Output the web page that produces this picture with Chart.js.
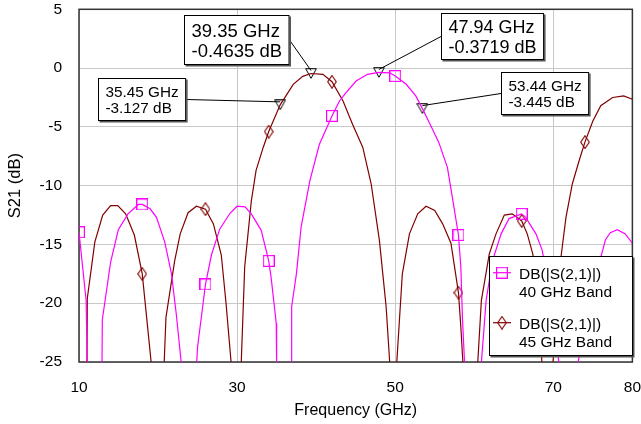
<!DOCTYPE html>
<html>
<head>
<meta charset="utf-8">
<script src="https://cdn.jsdelivr.net/npm/chart.js@4"></script>
<style>
  html, body { margin: 0; padding: 0; background: #fff; }
</style>
</head>
<body>
<canvas id="chart" width="641" height="424"></canvas>
<script>
// 40 GHz band (magenta)
const magFreq = [10.0, 10.9, 11.05, 11.9, 12.9, 12.95, 14.0, 14.97, 16.2, 17.5, 18.0, 19.0, 19.8, 20.85, 21.7, 22.3, 23.0, 23.9,
  24.85, 25.0, 25.7, 26.0, 26.75, 27.8, 29.1, 30.0, 31.0, 31.8, 33.05, 34.0, 34.3, 34.95, 35.0, 35.9,
  36.85, 36.9, 37.5, 38.1, 39.2, 40.4, 42.0, 42.95, 43.6, 45.05, 46.5, 47.94, 49.3, 50.0, 51.4, 52.6, 53.44, 54.5, 55.5, 56.6, 57.3,
  58.0, 58.3, 58.5, 58.8, 59.8, 60.85, 61.5, 62.3, 63.4, 64.4, 66.0, 66.5, 67.8, 68.6, 69.5, 70.8, 71.9,
  73.05, 74.0, 75.0, 76.0, 76.6, 77.2, 78.1, 79.1, 80.0];
const magDb = [-13.96, -19.75, -25.5, -45, -26, -21.4, -16.5, -13.75, -12.4, -11.6, -11.6, -11.97, -12.7, -14.8, -17.5, -20.9, -25.5, -45,
  -25.5, -23.7, -20.0, -18.4, -15.9, -13.7, -12.35, -11.75, -11.8, -12.4, -13.8, -16.4, -17.8, -21.7, -25.5, -45,
  -25.5, -20.3, -17.5, -13.5, -9.6, -6.5, -4.07, -2.8, -2.23, -1.1, -0.53, -0.37, -0.4, -0.68, -1.38, -2.37, -3.45, -4.9, -6.3, -8.45, -11.3,
  -14.2, -16.9, -21.2, -25.5, -45, -25.5, -19.75, -16.4, -14.1, -12.8, -12.4, -12.7, -14.1, -15.5, -19, -25.5, -45,
  -25.5, -21, -18, -16.1, -14.6, -14.0, -13.75, -14.1, -14.9];

// 45 GHz band (dark red)
const redFreq = [10.0, 10.85, 11.05, 12.0, 13.0, 14.0, 14.9, 15.9, 17.0, 18.0, 19.2, 19.9, 20.75, 21.0, 22.1, 22.8, 23.8, 24.85,
  26.0, 27.0, 28.0, 28.6, 29.3, 29.9, 30.5, 30.96, 31.8, 32.4, 33.3, 34.0, 35.45, 37.1, 38.3, 39.35, 40.85, 42.0, 43.4,
  44.6, 45.9, 46.96, 48.0, 48.85, 49.35, 49.7, 50.0, 50.2, 50.9, 51.8, 52.85, 53.9, 55.0, 56.0, 57.05, 58.0, 58.3, 58.6, 59.5,
  60.4, 60.9, 61.9, 62.75, 63.8, 64.8, 66.0, 66.7, 67.4, 68.0, 68.6, 69.2, 69.9, 71.0, 71.6, 72.4, 73.25, 74.0,
  75.0, 76.0, 77.5, 78.9, 80.0];
const redDb = [-32, -45, -19.6, -14.8, -12.5, -11.7, -11.7, -12.4, -14.2, -17.5, -25.5, -45, -25.5, -21.2, -16.4, -14.1, -12.3, -11.75,
  -12.0, -13.25, -15.9, -20.0, -25.5, -45, -25.5, -16.9, -11.3, -8.7, -6.75, -5.4, -3.13, -1.38, -0.7, -0.46, -0.53, -1.16, -2.8,
  -4.77, -6.75, -9.86, -14.66, -20.3, -25.5, -45, -32, -25, -17.5, -14.1, -12.4, -11.75, -12.1, -13.25, -14.9, -19.1, -22.0, -25.5, -45,
  -25.5, -19.75, -15.8, -14.1, -12.5, -12.4, -13.0, -14.1, -15.8, -19.0, -25.5, -45, -25.5, -15.9, -12.7, -9.86, -7.9, -6.3,
  -4.5, -3.2, -2.5, -2.37, -2.65];

const markerFreq = [10, 18, 26, 34, 42, 50, 58, 66, 74];

// marker readouts
const mkFreq = [35.45, 39.35, 47.94, 53.44];
const mkDb = [-3.127, -0.4635, -0.3719, -3.445];

const xTicks = [10, 30, 50, 70, 80];
const seriesName = 'DB(|S(2,1)|)';
const bandNames = ['40 GHz Band', '45 GHz Band'];

const FONT = '"Liberation Sans", Arial, sans-serif';
const MAG = '#ff00ff';
const RED = '#800000';

function glyph(w, h, draw) {
  const c = document.createElement('canvas');
  c.width = w; c.height = h;
  const g = c.getContext('2d');
  draw(g);
  return c;
}
const squareImg = glyph(12, 12, g => {
  g.strokeStyle = MAG; g.lineWidth = 1.2;
  g.strokeRect(0.6, 0.6, 10.8, 10.8);
});
const diamondImg = glyph(10, 14, g => {
  g.strokeStyle = RED; g.lineWidth = 1.1;
  g.beginPath();
  g.moveTo(5, 0.7); g.lineTo(9.3, 7); g.lineTo(5, 13.3); g.lineTo(0.7, 7);
  g.closePath(); g.stroke();
});
const triImg = glyph(12, 11, g => {
  g.strokeStyle = '#000'; g.lineWidth = 1;
  g.beginPath();
  g.moveTo(0.7, 0.7); g.lineTo(11.3, 0.7); g.lineTo(6, 10.3);
  g.closePath(); g.stroke();
});

const isMarker = ctx => ctx.raw && markerFreq.includes(ctx.raw.x);

// readout boxes (pixel layout)
const boxes = [
  { x: 98, y: 78, h: 43, size: 15.3, lh: 16.6, side: 'right' },
  { x: 184, y: 15, h: 50, size: 18.5, lh: 20, side: 'right' },
  { x: 441, y: 13, h: 47, size: 18, lh: 19.4, side: 'left' },
  { x: 501, y: 72, h: 43, size: 15.3, lh: 16.6, side: 'left' }
];

function drawBox(ctx, x, y, w, h) {
  ctx.fillStyle = '#555';
  ctx.fillRect(x + 1.5, y + 1.5, w, h);
  ctx.fillStyle = '#fff';
  ctx.fillRect(x, y, w, h);
  ctx.strokeStyle = '#000';
  ctx.lineWidth = 1;
  ctx.strokeRect(x + 0.5, y + 0.5, w - 1, h - 1);
}

const overlay = {
  id: 'overlay',
  beforeDatasetsDraw(chart) {
    const { ctx, chartArea: a } = chart;
    ctx.save();
    ctx.strokeStyle = '#333';
    ctx.lineWidth = 1.5;
    ctx.strokeRect(a.left, a.top, a.right - a.left, a.bottom - a.top);
    ctx.restore();
  },
  afterDraw(chart) {
    const { ctx } = chart;
    const xs = chart.scales.x, ys = chart.scales.y;
    ctx.save();
    boxes.forEach((b, i) => {
      const lines = [mkFreq[i] + ' GHz', mkDb[i] + ' dB'];
      ctx.font = b.size + 'px ' + FONT;
      const tw = Math.max(...lines.map(t => ctx.measureText(t).width));
      const w = tw + 15;
      const px = xs.getPixelForValue(mkFreq[i]);
      const py = ys.getPixelForValue(mkDb[i]);
      const ax = b.side === 'right' ? b.x + w : b.x;
      const ay = b.y + b.h / 2;
      ctx.strokeStyle = '#000';
      ctx.lineWidth = 1;
      ctx.beginPath();
      ctx.moveTo(ax, ay);
      ctx.lineTo(px, py - 3);
      ctx.stroke();
      drawBox(ctx, b.x, b.y, w, b.h);
      ctx.fillStyle = '#000';
      ctx.textBaseline = 'alphabetic';
      ctx.textAlign = 'left';
      const base = b.y + b.h / 2 - b.lh / 2 + 0.36 * b.size;
      lines.forEach((t, k) => ctx.fillText(t, b.x + 7.5, base + k * b.lh));
    });

    // legend
    const lx = 489, ly = 256, lw = 144, lh = 100;
    drawBox(ctx, lx, ly, lw, lh);
    const entries = [
      { color: MAG, img: squareImg, cy: 272.7 },
      { color: RED, img: diamondImg, cy: 322.7 }
    ];
    ctx.font = '15.5px ' + FONT;
    entries.forEach((e, i) => {
      ctx.strokeStyle = e.color;
      ctx.lineWidth = 1.2;
      ctx.beginPath();
      ctx.moveTo(493, e.cy);
      ctx.lineTo(511, e.cy);
      ctx.stroke();
      ctx.drawImage(e.img, 502 - e.img.width / 2, e.cy - e.img.height / 2);
      ctx.fillStyle = '#000';
      ctx.fillText(seriesName, 519, e.cy + 6.3);
      ctx.fillText(bandNames[i], 519, e.cy + 24);
    });
    ctx.restore();
  }
};

new Chart(document.getElementById('chart'), {
  type: 'scatter',
  data: {
    datasets: [
      {
        label: seriesName + ' ' + bandNames[0],
        data: magFreq.map((f, i) => ({ x: f, y: magDb[i] })),
        showLine: true,
        borderColor: MAG,
        borderWidth: 1.2,
        pointStyle: squareImg,
        pointRadius: ctx => isMarker(ctx) ? 6 : 0,
        tension: 0,
        clip: 0
      },
      {
        label: seriesName + ' ' + bandNames[1],
        data: redFreq.map((f, i) => ({ x: f, y: redDb[i] })),
        showLine: true,
        borderColor: RED,
        borderWidth: 1.2,
        pointStyle: diamondImg,
        pointRadius: ctx => isMarker(ctx) ? 6 : 0,
        tension: 0,
        clip: 0
      },
      {
        label: 'markers',
        data: mkFreq.map((f, i) => ({ x: f, y: mkDb[i] })),
        showLine: false,
        pointStyle: triImg,
        pointRadius: 5,
        clip: false
      }
    ]
  },
  options: {
    responsive: false,
    animation: false,
    events: [],
    layout: { padding: { top: 9, right: 8, left: 0, bottom: 0 } },
    plugins: {
      legend: { display: false },
      tooltip: { enabled: false }
    },
    scales: {
      x: {
        type: 'linear',
        min: 10,
        max: 80,
        afterBuildTicks: axis => { axis.ticks = xTicks.map(v => ({ value: v })); },
        afterFit: scale => { scale.height = 62; },
        grid: { color: '#c8c8c8', drawTicks: true, tickLength: 16, tickColor: 'rgba(0,0,0,0)' },
        border: { display: false },
        ticks: { color: '#000', font: { family: FONT, size: 15.5 }, padding: 0, maxRotation: 0 },
        title: { display: true, text: 'Frequency (GHz)', color: '#000', font: { family: FONT, size: 16 }, padding: { top: 4, bottom: 4 } }
      },
      y: {
        min: -25,
        max: 5,
        afterFit: scale => { scale.width = 79; },
        grid: { color: '#c8c8c8', drawTicks: true, tickLength: 17, tickColor: 'rgba(0,0,0,0)' },
        border: { display: false },
        ticks: { stepSize: 5, color: '#000', font: { family: FONT, size: 15.5 }, padding: 0 },
        title: { display: true, text: 'S21 (dB)', color: '#000', font: { family: FONT, size: 16.5 }, padding: { top: 6, bottom: 4 } }
      }
    }
  },
  plugins: [overlay]
});
</script>
</body>
</html>
